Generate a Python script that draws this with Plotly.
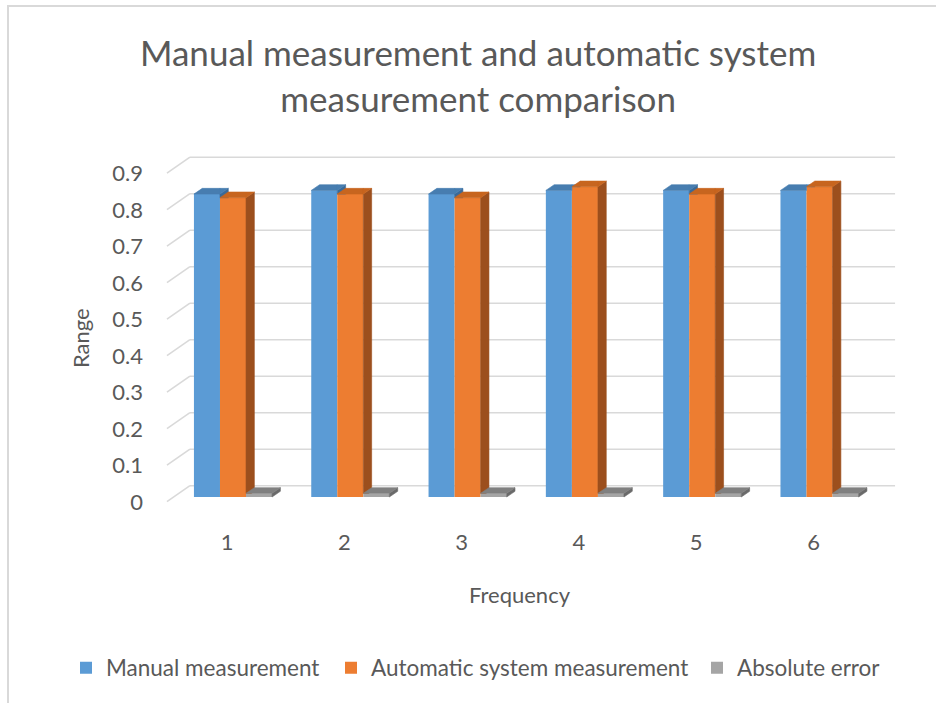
import plotly.graph_objects as go

# ---- data ----
categories = [1, 2, 3, 4, 5, 6]
manual = [0.83, 0.84, 0.83, 0.84, 0.84, 0.84]
automatic = [0.82, 0.83, 0.82, 0.85, 0.83, 0.85]
abs_error = [0.01, 0.01, 0.01, 0.01, 0.01, 0.01]
series_names = ["Manual measurement", "Automatic system measurement", "Absolute error"]
y_ticks = [0, 0.1, 0.2, 0.3, 0.4, 0.5, 0.6, 0.7, 0.8, 0.9]

# ---- style ----
FONT = "Lato"
TEXT = "#595959"
GRID = "#d9d9d9"
FRONT = ["#5b9bd5", "#ed7d31", "#a5a5a5"]
TOP = ["#477db0", "#c7651f", "#808080"]
SIDE = ["#3a6a98", "#9c4f1d", "#6a6a6a"]

BAR_W = 0.222          # width of one bar (category units)
DEPTH_X = 0.071        # pseudo-3D depth, x component (category units)
DEPTH_Y = 0.0156       # pseudo-3D depth, y component (value units)

# floor / back wall geometry in axis units
FLOOR_FRONT_X = 0.437
WALL_LEFT_X = 0.633
WALL_RIGHT_X = 6.644
FLOOR_FRONT_DY = -0.0129
WALL_DY = 0.031

X_RANGE = [0.3777, 6.686]
Y_RANGE = [-0.0493, 0.9507]

# plot-area box in pixels (used to place paper-referenced items)
L, R, T, B = 160, 900, 150, 515
W, H = 936, 703

# left edge (px) of each legend entry, one legend per series
LEGEND_LEFT = [66, 331, 697]
LEGEND_MID_Y = 668


def px(p):
    return (p - L) / (R - L)


def py(p):
    return (B - p) / (B - T)


def clip(poly, axis, c, keep_greater):
    """Clip a polygon against the half-plane coord[axis] >= c (or <= c)."""
    out = []
    n = len(poly)
    for i in range(n):
        p, q = poly[i], poly[(i + 1) % n]
        pin = p[axis] >= c if keep_greater else p[axis] <= c
        qin = q[axis] >= c if keep_greater else q[axis] <= c
        if pin:
            out.append(p)
        if pin != qin:
            t = (c - p[axis]) / (q[axis] - p[axis])
            out.append((p[0] + t * (q[0] - p[0]), p[1] + t * (q[1] - p[1])))
    return out


series = [manual, automatic, abs_error]
offsets = [-1.5 * BAR_W, -0.5 * BAR_W, 0.5 * BAR_W]
legend_ids = ["legend", "legend2", "legend3"]

fig = go.Figure()

# back-wall gridlines with the slanted floor edge on the left
shapes = []
for v in y_ticks:
    shapes.append(dict(type="line", xref="x", yref="y",
                       x0=FLOOR_FRONT_X, y0=v + FLOOR_FRONT_DY,
                       x1=WALL_LEFT_X, y1=v + WALL_DY,
                       line=dict(color=GRID, width=1.6), layer="below"))
    shapes.append(dict(type="line", xref="x", yref="y",
                       x0=WALL_LEFT_X, y0=v + WALL_DY,
                       x1=WALL_RIGHT_X, y1=v + WALL_DY,
                       line=dict(color=GRID, width=1.6), layer="below"))

# chart frame
shapes.append(dict(type="line", xref="paper", yref="paper",
                   x0=px(8), x1=px(8), y0=py(5), y1=py(H),
                   line=dict(color="#d9d9d9", width=2)))
shapes.append(dict(type="line", xref="paper", yref="paper",
                   x0=px(8), x1=px(W), y0=py(6), y1=py(6),
                   line=dict(color="#d9d9d9", width=2)))

# front faces: ordinary bar traces
for k, (name, vals) in enumerate(zip(series_names, series)):
    fig.add_trace(go.Bar(
        x=categories, y=vals, name=name,
        width=BAR_W, offset=offsets[k],
        marker=dict(color=FRONT[k], line=dict(width=0)),
        hoverinfo="x+y+name", legend=legend_ids[k],
    ))

# side and top faces, painted left to right within each cluster
for k, vals in enumerate(series):
    side_x, side_y, top_x, top_y = [], [], [], []
    for i, c in enumerate(categories):
        xl = c + offsets[k]
        xr = xl + BAR_W
        h = vals[i]
        nb = series[k + 1][i] if k + 1 < len(series) else None

        side = [(xr, 0), (xr, h), (xr + DEPTH_X, h + DEPTH_Y), (xr + DEPTH_X, DEPTH_Y)]
        if nb is not None:
            side = clip(side, 1, nb, True)
        top = [(xl, h), (xr, h), (xr + DEPTH_X, h + DEPTH_Y), (xl + DEPTH_X, h + DEPTH_Y)]
        if nb is not None:
            parts = [clip(top, 0, xr, False),
                     clip(clip(top, 0, xr, True), 1, nb, True)]
        else:
            parts = [top]

        if len(side) >= 3:
            side_x += [p[0] for p in side] + [side[0][0], None]
            side_y += [p[1] for p in side] + [side[0][1], None]
        for poly in parts:
            if len(poly) >= 3:
                top_x += [p[0] for p in poly] + [poly[0][0], None]
                top_y += [p[1] for p in poly] + [poly[0][1], None]

    for xs, ys, col in ((side_x, side_y, SIDE[k]), (top_x, top_y, TOP[k])):
        if xs:
            fig.add_trace(go.Scatter(
                x=xs, y=ys, mode="lines", fill="toself", fillcolor=col,
                line=dict(color=col, width=0.6), hoverinfo="skip",
                showlegend=False,
            ))

legend_style = dict(orientation="h", xref="paper", yref="paper",
                    xanchor="left", yanchor="middle", y=py(LEGEND_MID_Y),
                    font=dict(size=22.5), itemwidth=30,
                    bgcolor="rgba(0,0,0,0)")

fig.update_layout(
    width=W, height=H,
    margin=dict(l=L, r=W - R, t=T, b=H - B, autoexpand=False),
    paper_bgcolor="white", plot_bgcolor="white",
    font=dict(family=FONT, color=TEXT, size=22),
    barmode="group",
    xaxis=dict(
        range=X_RANGE, tickmode="array", tickvals=categories,
        ticktext=[str(c) for c in categories],
        showgrid=False, zeroline=False, showline=False, ticks="",
        ticklabelstandoff=12, ticklabelshift=-6,
        tickfont=dict(size=22),
    ),
    yaxis=dict(
        range=Y_RANGE, tickmode="array", tickvals=y_ticks,
        ticktext=[f"{v:g}" for v in y_ticks],
        showgrid=False, zeroline=False, showline=False, ticks="",
        ticklabelstandoff=16, ticklabelshift=5,
        tickfont=dict(size=22),
    ),
    legend=dict(legend_style, x=px(LEGEND_LEFT[0])),
    legend2=dict(legend_style, x=px(LEGEND_LEFT[1])),
    legend3=dict(legend_style, x=px(LEGEND_LEFT[2])),
    annotations=[
        dict(text="Manual measurement and automatic system<br>measurement comparison",
             xref="paper", yref="paper", x=px(478), y=py(75),
             xanchor="center", yanchor="middle", showarrow=False,
             font=dict(size=35, color=TEXT)),
        dict(text="Range", xref="paper", yref="paper",
             x=px(80), y=py(338), textangle=-90,
             xanchor="center", yanchor="middle",
             showarrow=False, font=dict(size=22, color=TEXT)),
        dict(text="Frequency", xref="paper", yref="paper",
             x=px(520), y=py(594), xanchor="center", yanchor="middle",
             showarrow=False, font=dict(size=22, color=TEXT)),
    ],
    shapes=shapes,
    showlegend=True,
)

fig.write_html("out.html")
